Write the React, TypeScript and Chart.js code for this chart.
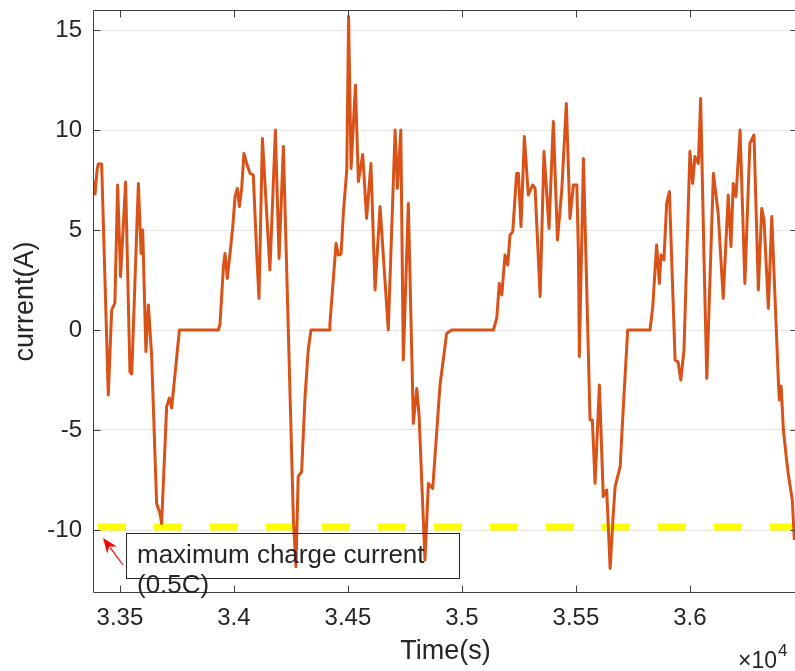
import React, { useEffect, useRef } from 'react';
import { Chart, registerables } from 'chart.js';

Chart.register(...registerables);

// ---- data (time in seconds, current in amperes) ----
const timeS = [
  33378, 33391, 33400, 33405, 33420, 33449, 33464, 33478, 33490, 33503,
  33525, 33544, 33552, 33581, 33593, 33600, 33614, 33625, 33639, 33661,
  33676, 33683, 33705, 33717, 33727, 33761, 33932, 33939, 33954, 33961,
  33971, 33983, 33995, 34005, 34015, 34024, 34034, 34044, 34056, 34071,
  34085, 34100, 34110, 34125, 34158, 34182, 34198, 34217, 34261, 34272,
  34282, 34297, 34312, 34326, 34338, 34418, 34421, 34448, 34458, 34470,
  34480, 34495, 34503, 34514, 34533, 34546, 34565, 34582, 34601, 34619,
  34641, 34677, 34707, 34717, 34732, 34743, 34765, 34787, 34802, 34812,
  34838, 34853, 34872, 34904, 34933, 34955, 35138, 35153, 35164, 35175,
  35189, 35201, 35211, 35223, 35240, 35248, 35259, 35274, 35291, 35310,
  35321, 35343, 35360, 35382, 35401, 35419, 35438, 35458, 35474, 35489,
  35504, 35511, 35515, 35533, 35562, 35572, 35584, 35603, 35620, 35635,
  35650, 35664, 35672, 35694, 35708, 35727, 35825, 35837, 35854, 35866,
  35873, 35886, 35898, 35910, 35935, 35948, 35960, 35974, 36000, 36012,
  36022, 36037, 36047, 36062, 36074, 36103, 36124, 36146, 36168, 36180,
  36190, 36202, 36220, 36241, 36263, 36281, 36300, 36315, 36325, 36344,
  36359, 36388, 36392, 36400, 36410, 36424, 36431, 36449, 36458,
];

const currentA = [
  7.7, 6.8, 8.0, 8.3, 8.3, -3.25, 1.0, 1.35, 7.25, 2.67,
  7.4, -2.1, -2.2, 7.33, 3.83, 5.0, -1.08, 1.25, -1.25, -8.67,
  -9.17, -9.67, -3.83, -3.4, -3.9, 0, 0, 0.3, 3.17, 3.83,
  2.58, 3.83, 5.17, 6.67, 7.08, 6.17, 7.08, 8.83, 8.33, 7.83,
  7.75, 3.83, 1.58, 9.58, 3.0, 10.0, 3.58, 9.17, -9.5, -11.83,
  -7.33, -7.08, -3.33, -1.0, 0, 0, 0.3, 4.33, 3.75, 3.8,
  5.83, 8.0, 15.67, 8.08, 12.25, 7.42, 8.78, 5.58, 8.33, 2.0,
  6.17, 0, 10.0, 7.08, 10.0, -1.5, 6.33, -4.67, -2.92, -4.25,
  -11.5, -7.67, -7.92, -2.75, -0.17, 0, 0, 0.6, 2.33, 1.75,
  3.75, 3.25, 4.75, 4.92, 7.83, 7.83, 5.17, 9.67, 6.75, 7.25,
  7.08, 1.67, 8.92, 5.08, 10.42, 4.5, 7.0, 11.33, 5.58, 7.25,
  7.25, 3.83, -1.33, 8.58, -4.5, -4.5, -7.67, -2.75, -8.33, -8.0,
  -11.92, -9.17, -7.83, -6.83, -3.83, 0, 0, 1.17, 4.25, 2.33,
  3.75, 3.5, 6.33, 6.92, -1.5, -1.6, -2.5, -1.0, 8.92, 7.33,
  8.67, 8.33, 11.58, 3.5, -2.42, 7.83, 5.83, 1.58, 6.75, 4.17,
  7.33, 6.67, 10.0, 2.33, 9.33, 9.75, 2.0, 6.08, 5.5, 1.08,
  5.67, -2.58, -3.5, -2.8, -5.0, -6.5, -7.17, -8.5, -10.5,
];

const maxChargeCurrent = -9.85;

const xMin = 33382;
const xMax = 36474;
const yMin = -13.15;
const yMax = 16;

const xTickValues = [33500, 34000, 34500, 35000, 35500, 36000];
const xTickLabels = ['3.35', '3.4', '3.45', '3.5', '3.55', '3.6'];
const yTickValues = [-10, -5, 0, 5, 10, 15];
const yTickLabels = ['-10', '-5', '0', '5', '10', '15'];

const annotationLines = ['maximum charge current', '(0.5C)'];
// annotation anchors in data coordinates
const arrowTip = { x: 33426, y: -10.4 };
const arrowTail = { x: 33514, y: -11.75 };
const boxCorner1 = { x: 33527, y: -10.15 };
const boxCorner2 = { x: 34987, y: -12.4 };
const textAnchor = { x: 33575, y: -11.65 };

const FONT = '"Liberation Sans", Arial, Helvetica, sans-serif';
const TEXT = '#262626';

const matlabPlugin = {
  id: 'matlabDecor',
  afterDraw(chart: any) {
    const { ctx } = chart;
    const xs = chart.scales.x;
    const ys = chart.scales.y;
    const { left, right, top, bottom } = chart.chartArea;
    const px = (v: number) => xs.getPixelForValue(v);
    const py = (v: number) => ys.getPixelForValue(v);
    ctx.save();
    // axes box
    ctx.strokeStyle = '#404040';
    ctx.lineWidth = 1;
    const L = Math.round(left) + 0.5;
    const R = Math.round(right) - 0.5;
    const T = Math.round(top) + 0.5;
    const B = Math.round(bottom) - 0.5;
    ctx.beginPath();
    ctx.moveTo(L, T);
    ctx.lineTo(R, T);
    ctx.lineTo(R, B);
    ctx.lineTo(L, B);
    ctx.closePath();
    ctx.stroke();
    // inward ticks
    const tl = 7;
    ctx.beginPath();
    xTickValues.forEach((v) => {
      const x = Math.round(px(v)) + 0.5;
      ctx.moveTo(x, B);
      ctx.lineTo(x, B - tl);
      ctx.moveTo(x, T);
      ctx.lineTo(x, T + tl);
    });
    yTickValues.forEach((v) => {
      const y = Math.round(py(v)) + 0.5;
      ctx.moveTo(L, y);
      ctx.lineTo(L + tl, y);
      ctx.moveTo(R, y);
      ctx.lineTo(R - tl, y);
    });
    ctx.stroke();

    // annotation box
    const bx1 = Math.round(px(boxCorner1.x)) + 0.5;
    const by1 = Math.round(py(boxCorner1.y)) + 0.5;
    const bx2 = Math.round(px(boxCorner2.x)) + 0.5;
    const by2 = Math.round(py(boxCorner2.y)) + 0.5;
    ctx.strokeStyle = '#262626';
    ctx.strokeRect(bx1, by1, bx2 - bx1, by2 - by1);
    // text
    ctx.fillStyle = TEXT;
    ctx.font = `26px ${FONT}`;
    ctx.textAlign = 'left';
    ctx.textBaseline = 'alphabetic';
    const tx = px(textAnchor.x);
    const ty = py(textAnchor.y);
    annotationLines.forEach((s, i) => ctx.fillText(s, tx, ty + i * 30));

    // arrow
    const ax = px(arrowTail.x), ay = py(arrowTail.y);
    const hx = px(arrowTip.x), hy = py(arrowTip.y);
    const ang = Math.atan2(hy - ay, hx - ax);
    const headLen = 15, headW = 6;
    ctx.strokeStyle = '#ff0000';
    ctx.fillStyle = '#ff0000';
    ctx.lineWidth = 1.2;
    ctx.beginPath();
    ctx.moveTo(ax, ay);
    ctx.lineTo(hx - Math.cos(ang) * headLen * 0.8, hy - Math.sin(ang) * headLen * 0.8);
    ctx.stroke();
    const bxh = hx - Math.cos(ang) * headLen;
    const byh = hy - Math.sin(ang) * headLen;
    ctx.beginPath();
    ctx.moveTo(hx, hy);
    ctx.lineTo(bxh + Math.sin(ang) * headW, byh - Math.cos(ang) * headW);
    ctx.lineTo(hx - Math.cos(ang) * headLen * 0.7, hy - Math.sin(ang) * headLen * 0.7);
    ctx.lineTo(bxh - Math.sin(ang) * headW, byh + Math.cos(ang) * headW);
    ctx.closePath();
    ctx.fill();

    // x10^4 exponent label
    ctx.fillStyle = TEXT;
    ctx.textBaseline = 'alphabetic';
    ctx.textAlign = 'left';
    ctx.font = `23px ${FONT}`;
    const ex = right - 60;
    const ey = chart.height - 3;
    ctx.fillText('\u00d710', ex, ey);
    const w = ctx.measureText('\u00d710').width;
    ctx.font = `17px ${FONT}`;
    ctx.fillText('4', ex + w + 1, ey - 12);
    ctx.restore();
  },
};

export default function App() {
  const ref = useRef<HTMLCanvasElement | null>(null);

  useEffect(() => {
    document.body.style.margin = '0';
    document.body.style.overflow = 'hidden';
    const canvas = ref.current;
    if (!canvas) return;
    const chart = new Chart(canvas, {
      type: 'line',
      data: {
        datasets: [
          {
            label: 'current',
            data: timeS.map((t, i) => ({ x: t, y: currentA[i] })),
            borderColor: '#D95319',
            borderWidth: 3,
            pointRadius: 0,
            tension: 0,
            borderJoinStyle: 'round',
            fill: false,
          },
          {
            label: 'max charge current',
            data: [
              { x: xMin, y: maxChargeCurrent },
              { x: xMax, y: maxChargeCurrent },
            ],
            borderColor: '#FFFF00',
            borderWidth: 7,
            borderDash: [28, 28],
            borderDashOffset: 51,
            borderCapStyle: 'butt',
            pointRadius: 0,
            fill: false,
          },
        ],
      },
      options: {
        responsive: false,
        animation: false,
        events: [],
        layout: { padding: { top: 10, right: 2, left: 0, bottom: 0 } },
        plugins: {
          legend: { display: false },
          tooltip: { enabled: false },
        },
        scales: {
          x: {
            type: 'linear',
            min: xMin,
            max: xMax,
            afterBuildTicks: (s: any) => {
              s.ticks = xTickValues.map((v) => ({ value: v }));
            },
            afterFit: (s: any) => {
              s.height = 78;
              s.paddingLeft = 0;
              s.paddingRight = 0;
              s.paddingTop = 0;
              s.paddingBottom = 0;
            },
            grid: { display: false, drawTicks: false },
            border: { display: false },
            ticks: {
              padding: 11,
              maxRotation: 0,
              autoSkip: false,
              color: TEXT,
              font: { family: FONT, size: 24 },
              callback: (v: any) => {
                const i = xTickValues.indexOf(Number(v));
                return i >= 0 ? xTickLabels[i] : '';
              },
            },
            title: {
              display: true,
              text: 'Time(s)',
              color: TEXT,
              font: { family: FONT, size: 27 },
              padding: { top: 0, bottom: 3 },
            },
          },
          y: {
            type: 'linear',
            min: yMin,
            max: yMax,
            afterBuildTicks: (s: any) => {
              s.ticks = yTickValues.map((v) => ({ value: v }));
            },
            afterFit: (s: any) => {
              s.width = 93;
              s.paddingLeft = 0;
              s.paddingRight = 0;
              s.paddingTop = 0;
              s.paddingBottom = 0;
            },
            grid: { color: '#e3e3e3', lineWidth: 1, drawTicks: false },
            border: { display: false },
            ticks: {
              padding: 11,
              autoSkip: false,
              color: TEXT,
              font: { family: FONT, size: 24 },
              callback: (v: any) => {
                const i = yTickValues.indexOf(Number(v));
                return i >= 0 ? yTickLabels[i] : '';
              },
            },
            title: {
              display: true,
              text: 'current(A)',
              color: TEXT,
              font: { family: FONT, size: 27 },
              padding: { top: 9, bottom: 0 },
            },
          },
        },
      },
      plugins: [matlabPlugin],
    } as any);
    return () => chart.destroy();
  }, []);

  return (
    <div style={{ width: 795, height: 671, overflow: 'hidden', background: '#fff' }}>
      <canvas ref={ref} width={800} height={671} style={{ display: 'block' }} />
    </div>
  );
}
